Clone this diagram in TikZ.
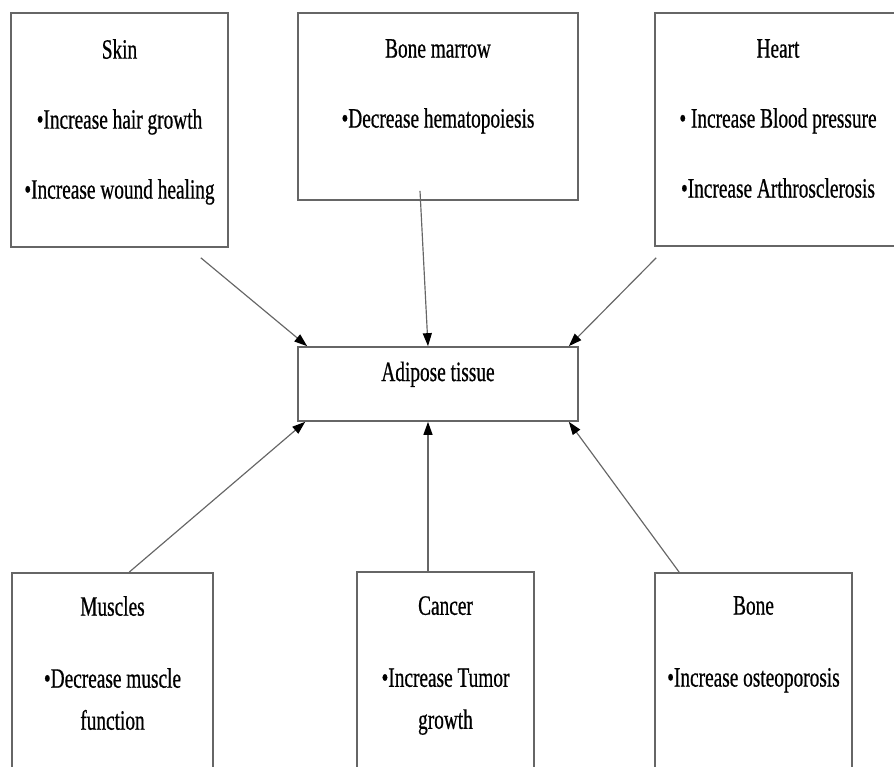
\documentclass[tikz,border=0pt]{standalone}
\usepackage{fontspec}
\setmainfont{Liberation Serif}[FakeStretch=0.69, FakeBold=0.6]
\usetikzlibrary{arrows.meta,positioning,calc,fit,shadows}

\tikzset{
  box/.style={draw=black!60, line width=0.05cm, fill=white, inner sep=0pt,
    drop shadow={shadow xshift=0.02cm, shadow yshift=-0.03cm, fill=black!35, opacity=1}},
  txt/.style={font=\fontsize{23.9}{35.85}\selectfont, align=center, inner sep=0pt, anchor=north},
  link/.style={draw=black!60, line width=0.035cm, -{Triangle[length=0.39cm, width=0.27cm, color=black]}}
}

\begin{document}
\begin{tikzpicture}[x=0.03cm, y=-0.03cm]
\useasboundingbox (0,0) rectangle (894,767);
\clip (0,0) rectangle (894,767);

% top row
\node[box, fit={(11,13) (228,247)}] (skin) {};
\node[box, fit={(298,13) (578,200)}] (marrow) {};
\node[box, fit={(655,13) (901,246)}] (heart) {};
\node[txt] (skin-txt) at (119.5,39) {Skin\\[0.84cm]•Increase hair growth\\[0.84cm]•Increase wound healing};
\node[txt] (marrow-txt) at (438,39) {Bone marrow\\[0.84cm]•Decrease hematopoiesis};
\node[txt] (heart-txt) at (778,39) {Heart\\[0.84cm]• Increase Blood pressure\\[0.84cm]•Increase Arthrosclerosis};

% centre
\node[box, fit={(298,347) (578,421)}, font=\fontsize{23.9}{35.85}\selectfont] (adipose) {Adipose tissue};

% bottom row
\node[box, fit={(12,573) (213,800)}] (muscles) {};
\node[box, fit={(357,572) (534,800)}] (cancer) {};
\node[box, fit={(655,573) (852,800)}] (bone) {};
\node[txt] (muscles-txt) at (112.5,596) {Muscles\\[0.9cm]•Decrease muscle\\function};
\node[txt] (cancer-txt) at (445.5,596) {Cancer\\[0.9cm]•Increase Tumor\\growth};
\node[txt] (bone-txt) at (753.5,596) {Bone\\[0.9cm]•Increase osteoporosis};

% arrows into adipose tissue
\draw[link] ($(skin.south east)+(-28,10)$) -- ($(adipose.north west)+(10,0)$);
\draw[link] ($(marrow.south)+(-18,-10)$) -- ($(adipose.north)+(-10,0)$);
\draw[link] ($(heart.south west)+(2,11)$) -- ($(adipose.north east)+(-10,0)$);
\draw[link] ($(muscles.north west)+(118,0)$) -- ($(adipose.south west)+(8,0)$);
\draw[link] ($(cancer.north)+(-17.5,0)$) -- ($(adipose.south)+(-10,0)$);
\draw[link] ($(bone.north west)+(25,0)$) -- ($(adipose.south east)+(-10,0)$);
\end{tikzpicture}
\end{document}
